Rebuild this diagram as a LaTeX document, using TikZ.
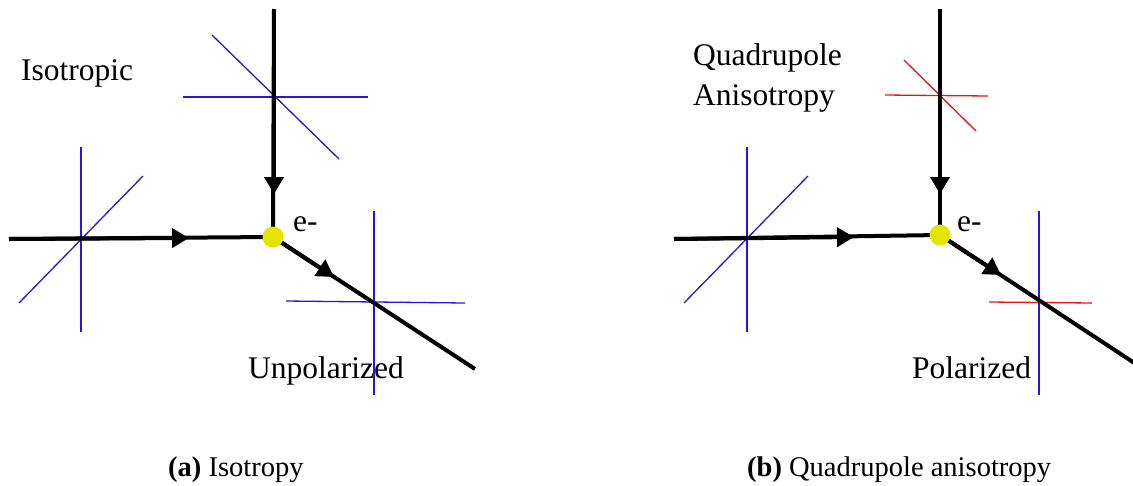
\documentclass[tikz,border=0pt]{standalone}
\usepackage{fontspec}
\setmainfont{Liberation Serif}
\usetikzlibrary{arrows.meta}
\definecolor{polblue}{RGB}{40,20,225}
\definecolor{polred}{RGB}{235,20,20}
\definecolor{dotyellow}{RGB}{228,228,0}
\tikzset{
  beam/.style={line width=4pt, black},
  beamarrow/.style={beam, -{Triangle[length=17pt,width=19pt]}},
  bluepol/.style={line width=1.3pt, polblue},
  redpol/.style={line width=1.3pt, polred},
  vertexdot/.style={circle, fill=dotyellow, minimum size=21pt, inner sep=0pt},
  lbl/.style={inner sep=0pt, anchor=base west, font=\rmfamily\fontsize{31.5}{38}\selectfont},
  captext/.style={inner sep=0pt, anchor=base west, font=\rmfamily\fontsize{28.5}{34}\selectfont},
}
\begin{document}
\begin{tikzpicture}[x=1pt,y=-1pt]
\useasboundingbox (0,0) rectangle (1133,485);
\begin{scope}
\clip (0,0) rectangle (1133,485);
% ---------- panel (a) ----------
\coordinate (aV) at (273,237);
\coordinate (aTop) at (274,9);
\coordinate (aTopTip) at (274,194);
\coordinate (aLeft) at (9,239);
\coordinate (aLeftTip) at (189,238);
\coordinate (aEnd) at (475,369);
\coordinate (aDiagTip) at (334,277);
% polarization crosses
\draw[bluepol] (81,147) -- (81,332);
\draw[bluepol] (19,303) -- (143,176);
\draw[bluepol] (183,97) -- (368,97);
\draw[bluepol] (212,35) -- (339,159);
\draw[bluepol] (286,301) -- (465,303);
\draw[bluepol] (374,211) -- (374,395);
% beams
\draw[beam] (aTop) -- (aV);
\draw[beamarrow] (aTop) -- (aTopTip);
\draw[beam] (aLeft) -- (aV);
\draw[beamarrow] (aLeft) -- (aLeftTip);
\draw[beam] (aV) -- (aEnd);
\draw[beamarrow] (aV) -- (aDiagTip);
\node[vertexdot] (adot) at (aV) {};
\node[lbl] (aiso) at (21,80) {Isotropic};
\node[lbl] (ae) at (293,231) {e-};
\node[lbl] (aunp) at (248,378) {Unpolarized};
% ---------- panel (b) ----------
\coordinate (bV) at (940,235);
\coordinate (bTop) at (940,9);
\coordinate (bTopTip) at (940,194);
\coordinate (bLeft) at (674,239);
\coordinate (bLeftTip) at (854,237);
\coordinate (bEnd) at (1145,370);
\coordinate (bDiagTip) at (1001,275);
\draw[bluepol] (747,147) -- (747,332);
\draw[bluepol] (684,303) -- (808,176);
\draw[redpol] (885,95) -- (988,96);
\draw[redpol] (904,60) -- (976,131);
\draw[redpol] (989,302) -- (1092,303);
\draw[bluepol] (1039,211) -- (1039,395);
\draw[beam] (bTop) -- (bV);
\draw[beamarrow] (bTop) -- (bTopTip);
\draw[beam] (bLeft) -- (bV);
\draw[beamarrow] (bLeft) -- (bLeftTip);
\draw[beam] (bV) -- (bEnd);
\draw[beamarrow] (bV) -- (bDiagTip);
\node[vertexdot] (bdot) at (bV) {};
\node[lbl] (bq1) at (693,65) {Quadrupole};
\node[lbl] (bq2) at (693,105) {Anisotropy};
\node[lbl] (be) at (957,231) {e-};
\node[lbl] (bpol) at (912,378) {Polarized};
\end{scope}
% captions
\node[captext] (capa) at (168,476) {\textbf{(a)} Isotropy};
\node[captext] (capb) at (747,476) {\textbf{(b)} Quadrupole anisotropy};
\end{tikzpicture}
\end{document}
